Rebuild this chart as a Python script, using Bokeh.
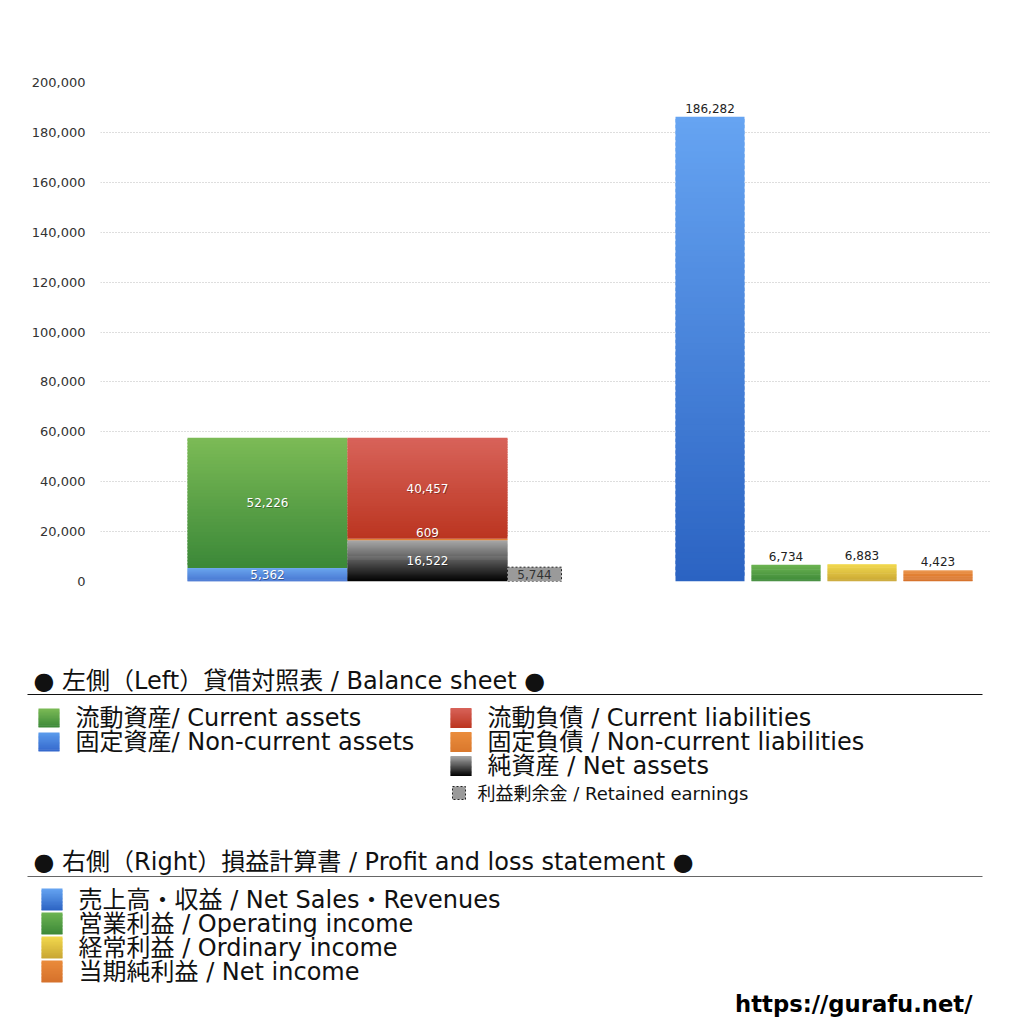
from bokeh.plotting import figure
from bokeh.layouts import column
from bokeh.models import Range1d, FixedTicker, NumeralTickFormatter, ColumnDataSource
from bokeh.embed import file_html
from bokeh.resources import INLINE
from bokeh.core.properties import value

FONT = "DejaVu Sans, Noto Sans CJK JP"

# ---------------- data ----------------
bs_asset_names = ["固定資産", "流動資産"]
bs_asset_values = [5362, 52226]                 # bottom -> top
bs_liab_names = ["純資産", "固定負債", "流動負債"]
bs_liab_values = [16522, 609, 40457]            # bottom -> top
retained_name = "利益剰余金"
retained_value = 5744
pl_names = ["売上高・収益", "営業利益", "経常利益", "当期純利益"]
pl_values = [186282, 6734, 6883, 4423]
y_tick_values = [0, 20000, 40000, 60000, 80000, 100000, 120000, 140000, 160000, 180000, 200000]

# ---------------- styles / layout ----------------
asset_colors = [("#5b9cec", "#3467cc"), ("#7cbb56", "#3b8838")]
liab_colors = [("#a8a8a8", "#000000"), ("#eb8d3c", "#d9782d"), ("#d8635a", "#bb3520")]
pl_colors = [("#66a4f2", "#2b63c2"), ("#6db452", "#3c8838"), ("#f2d94e", "#c8a533"), ("#ea8b3b", "#d5712b")]

asset_x, liab_x, ret_x = 267, 427, 534
asset_w, liab_w, ret_w = 160, 160, 54
pl_x = [709.5, 785.5, 861.5, 937.5]
pl_w = 69


def rgb(h):
    h = h.lstrip("#")
    return tuple(int(h[i:i + 2], 16) for i in (0, 2, 4))


def mix(c1, c2, t):
    a, b = rgb(c1), rgb(c2)
    return "#%02x%02x%02x" % tuple(int(round(a[i] + (b[i] - a[i]) * t)) for i in range(3))


def grad(store, cx, w, bottom, top, ctop, cbot, n=40):
    h = (top - bottom) / n
    for i in range(n):
        b = bottom + i * h
        store["left"].append(cx - w / 2)
        store["right"].append(cx + w / 2)
        store["bottom"].append(b)
        store["top"].append(min(b + h * 1.6, top))
        store["color"].append(mix(cbot, ctop, (i + 0.5) / n))


W = 1008
H1 = 648
H2 = 372
BL, BR = 100, 18

p = figure(width=W, height=H1, output_backend="svg", toolbar_location=None,
           x_range=Range1d(BL, W - BR), y_range=Range1d(0, 200000),
           min_border_left=BL, min_border_right=BR, min_border_top=82, min_border_bottom=67)
p.outline_line_color = None
p.xaxis.visible = False
p.xgrid.visible = False
p.ygrid.grid_line_color = "#bcbcbc"
p.ygrid.grid_line_dash = "1 2"
p.ygrid.grid_line_width = 1
p.yaxis.ticker = FixedTicker(ticks=y_tick_values)
p.yaxis.formatter = NumeralTickFormatter(format="0,0")
p.yaxis.axis_line_color = None
p.yaxis.major_tick_line_color = None
p.yaxis.minor_tick_line_color = None
p.yaxis.major_label_text_font = FONT
p.yaxis.major_label_text_font_size = "13px"
p.yaxis.major_label_text_color = "#333333"
p.yaxis.major_label_standoff = 9

bars = {"left": [], "right": [], "bottom": [], "top": [], "color": []}
labels = {"x": [], "y": [], "t": []}

base = 0
for v, (ct, cb) in zip(bs_asset_values, asset_colors):
    grad(bars, asset_x, asset_w, base, base + v, ct, cb)
    labels["x"].append(asset_x); labels["y"].append(base + v / 2); labels["t"].append(f"{v:,}")
    base += v

base = 0
for i, (v, (ct, cb)) in enumerate(zip(bs_liab_values, liab_colors)):
    grad(bars, liab_x, liab_w, base, base + v, ct, cb, n=40 if v > 2000 else 2)
    ly = base + v / 2 if v > 2000 else base + v + 2500
    labels["x"].append(liab_x); labels["y"].append(ly); labels["t"].append(f"{v:,}")
    base += v

for x, v, (ct, cb) in zip(pl_x, pl_values, pl_colors):
    grad(bars, x, pl_w, 0, v, ct, cb, n=80 if v > 50000 else 20)

p.quad(left="left", right="right", bottom="bottom", top="top", fill_color="color",
       line_color=None, source=ColumnDataSource(bars))

# retained earnings (dashed box)
p.quad(left=[ret_x - ret_w / 2], right=[ret_x + ret_w / 2], bottom=[0], top=[retained_value],
       fill_color="#9a9a9a", line_color="#222222", line_dash="2 2", line_width=1)
p.text(x=[ret_x], y=[retained_value / 2], text=[f"{retained_value:,}"],
       text_font=value(FONT), text_font_size="12px", text_color="#333333",
       text_align="center", text_baseline="middle")

# white inside labels with faint shadow
p.text(x=labels["x"], y=labels["y"], text=labels["t"], x_offset=0.8, y_offset=0.8,
       text_font=value(FONT), text_font_size="12px", text_color="#000000", text_alpha=0.35,
       text_align="center", text_baseline="middle")
p.text(x=labels["x"], y=labels["y"], text=labels["t"],
       text_font=value(FONT), text_font_size="12px", text_color="#ffffff",
       text_align="center", text_baseline="middle")

# P&L labels above bars
p.text(x=pl_x, y=pl_values, text=[f"{v:,}" for v in pl_values], y_offset=-4,
       text_font=value(FONT), text_font_size="12px", text_color="#222222",
       text_align="center", text_baseline="bottom")

# ---------------- legend figure (page coordinates) ----------------
q = figure(width=W, height=H2, output_backend="svg", toolbar_location=None,
           x_range=Range1d(0, W), y_range=Range1d(H1 + H2, H1),
           min_border_left=0, min_border_right=0, min_border_top=0, min_border_bottom=0)
q.outline_line_color = None
q.axis.visible = False
q.grid.visible = False
for fig in (p, q):
    if hasattr(fig, "frame_align"):
        fig.frame_align = False

lb = {"left": [], "right": [], "bottom": [], "top": [], "color": []}


def square(x0, x1, y0, y1, ct, cb):
    # y grows downward in this figure: top of square is y0
    n = 16
    h = (y1 - y0) / n
    for i in range(n):
        lb["left"].append(x0); lb["right"].append(x1)
        lb["top"].append(y0 + i * h); lb["bottom"].append(min(y0 + (i + 1.6) * h, y1))
        lb["color"].append(mix(ct, cb, (i + 0.5) / n))


def txt(x, y, s, size, color="#111111", bold=False, align="left"):
    q.text(x=[x], y=[y], text=[s], text_font=value(FONT), text_font_size=size,
           text_color=color, text_baseline="middle", text_align=align,
           text_font_style="bold" if bold else "normal")


LEG = "24px"

txt(33, 680, "● 左側（Left）貸借対照表 / Balance sheet ●", LEG)
q.line(x=[27, 982], y=[694, 694], line_color="#111111", line_width=1)

bs_left_items = [("流動資産/ Current assets", asset_colors[1]),
                 ("固定資産/ Non-current assets", asset_colors[0])]
for i, (s, (ct, cb)) in enumerate(bs_left_items):
    yc = 717.5 + i * 24
    square(38, 59, yc - 9.5, yc + 9.5, ct, cb)
    txt(75, yc, s, LEG)

bs_right_items = [("流動負債 /  Current liabilities", liab_colors[2]),
                  ("固定負債 / Non-current liabilities", liab_colors[1]),
                  ("純資産 / Net assets", liab_colors[0])]
for i, (s, (ct, cb)) in enumerate(bs_right_items):
    yc = 717.5 + i * 24
    square(450, 471, yc - 10, yc + 10, ct, cb)
    txt(487, yc, s, LEG)

q.quad(left=[452], right=[465], top=[786], bottom=[799], fill_color="#9a9a9a",
       line_color="#222222", line_dash="2 2", line_width=1)
txt(477, 792.5, "利益剰余金 / Retained earnings", "18px")

txt(33, 861, "● 右側（Right）損益計算書 / Profit and loss statement ●", LEG)
q.line(x=[27, 982], y=[876, 876], line_color="#666666", line_width=1.2)

pl_items = ["売上高・収益 / Net Sales・Revenues", "営業利益 / Operating income",
            "経常利益 / Ordinary income", "当期純利益 / Net income"]
for i, (s, (ct, cb)) in enumerate(zip(pl_items, pl_colors)):
    yc = 899 + i * 24
    square(41, 62, yc - 11, yc + 11, ct, cb)
    txt(78, yc, s, LEG)

q.quad(left="left", right="right", bottom="bottom", top="top", fill_color="color",
       line_color=None, source=ColumnDataSource(lb))

txt(972, 1003, "https://gurafu.net/", "22.7px", color="#000000", bold=True, align="right")

layout = column(p, q, spacing=0)
open("out.html", "w").write(file_html(layout, INLINE))
